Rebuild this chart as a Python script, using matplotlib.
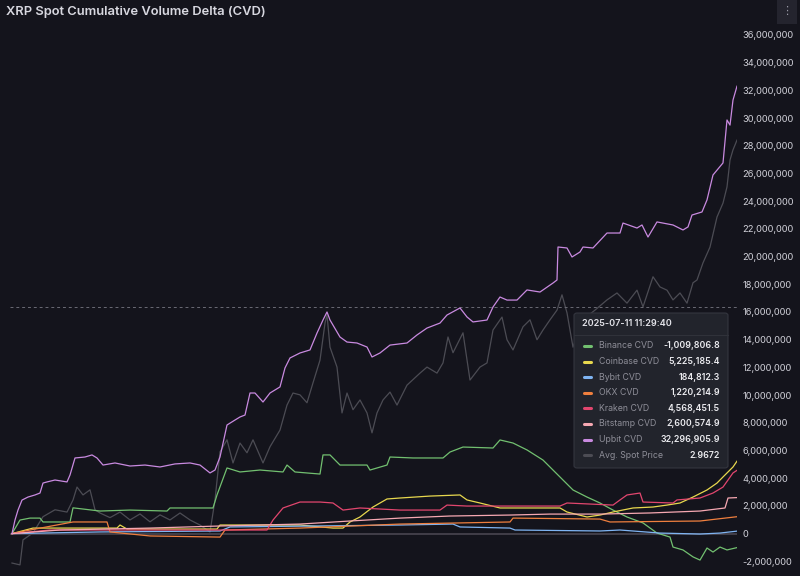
import matplotlib.pyplot as plt
from matplotlib.patches import FancyBboxPatch, Rectangle
from matplotlib.ticker import FuncFormatter

plt.rcParams['font.family'] = ['Inter', 'DejaVu Sans']

BG = '#14141c'

# time axis in hours since start (x axis has no labels)
upbit_t = [0, 3, 6, 10, 16, 23, 28, 31, 35, 43, 55, 58, 63, 73, 80, 85, 91, 103, 118, 133,
           148, 163, 178, 188, 198, 203, 208, 215, 223, 228, 233, 238, 243, 251, 258, 268,
           273, 278, 288, 298, 305, 311, 315, 318, 328, 335, 345, 355, 360, 368, 378, 395,
           405, 415, 428, 435, 448, 455, 461, 475, 481, 488, 495, 505, 515, 528, 541, 545,
           546, 555, 560, 568, 571, 581, 595, 608, 611, 625, 630, 636, 645, 661, 671, 676,
           680, 690, 695, 701, 711, 715, 718, 721, 725]
upbit = [0, 0.98, 1.70, 2.42, 2.64, 2.79, 2.93, 3.65, 3.73, 3.87, 3.73, 4.23, 5.46, 5.53,
         5.68, 5.46, 4.95, 5.10, 4.88, 4.95, 4.81, 5.03, 5.10, 4.95, 4.38, 4.59, 5.53, 7.84,
         8.20, 8.42, 8.56, 10.15, 10.15, 9.50, 10.15, 10.59, 11.96, 12.68, 13.04, 13.26,
         14.48, 15.42, 16.00, 15.42, 14.19, 13.83, 13.76, 13.47, 12.75, 13.04, 13.61, 13.76,
         14.34, 14.84, 15.20, 15.78, 16.29, 15.64, 15.28, 15.42, 16.36, 17.08, 16.86, 16.86,
         17.59, 17.44, 18.09, 18.31, 20.69, 20.62, 19.97, 20.33, 20.69, 20.62, 21.70, 21.70,
         22.42, 22.06, 22.28, 21.41, 22.50, 22.28, 21.92, 22.14, 23.00, 23.22, 24.09, 25.89,
         26.76, 29.86, 29.49, 31.30, 32.30]

binance_t = [0, 8, 18, 28, 31, 58, 61, 88, 118, 155, 158, 201, 205, 215, 228, 248, 271, 275,
             283, 308, 311, 318, 328, 355, 358, 375, 378, 401, 431, 438, 451, 481, 488, 501,
             515, 531, 551, 561, 575, 588, 601, 615, 631, 645, 658, 661, 671, 681, 688, 695,
             701, 708, 715, 725]
binance = [0, 0.98, 1.12, 1.12, 0.84, 0.84, 1.86, 1.63, 1.70, 1.63, 1.85, 1.85, 2.79, 4.74,
           4.45, 4.59, 4.45, 4.95, 4.45, 4.30, 5.68, 5.68, 4.95, 4.95, 4.59, 4.95, 5.53, 5.46,
           5.46, 5.89, 6.25, 6.18, 6.76, 6.54, 6.04, 5.31, 3.87, 3.15, 2.64, 2.21, 1.70, 1.20,
           0.77, 0.04, -0.25, -0.97, -1.18, -1.68, -1.91, -1.04, -1.33, -0.97, -1.18, -1.01]

coinbase_t = [0, 21, 105, 108, 115, 205, 208, 288, 321, 331, 338, 348, 361, 375, 388, 418,
              448, 455, 468, 488, 548, 555, 575, 588, 601, 621, 641, 655, 668, 681, 695, 705,
              711, 721, 725]
coinbase = [0, 0.40, 0.40, 0.62, 0.33, 0.33, 0.62, 0.62, 0.40, 0.40, 0.84, 1.20, 1.92, 2.50,
            2.57, 2.71, 2.79, 2.43, 2.21, 1.85, 1.85, 1.56, 1.20, 1.34, 1.56, 1.85, 1.92,
            2.06, 2.21, 2.64, 3.15, 3.65, 4.09, 4.81, 5.23]

bybit_t = [0, 88, 208, 218, 388, 441, 448, 498, 503, 588, 608, 648, 688, 708, 725]
bybit = [0, 0.12, 0.19, 0.48, 0.62, 0.69, 0.48, 0.40, 0.26, 0.19, 0.26, 0.04, -0.03, 0.04,
         0.18]

okx_t = [0, 18, 61, 95, 98, 138, 208, 213, 288, 388, 498, 501, 588, 598, 688, 713, 725]
okx = [0, 0.26, 0.84, 0.84, 0.12, -0.17, -0.25, 0.26, 0.40, 0.69, 0.84, 1.12, 1.05, 0.84,
       0.91, 1.12, 1.22]

kraken_t = [0, 38, 138, 255, 261, 271, 288, 308, 321, 331, 348, 388, 428, 435, 455, 548,
            555, 601, 608, 615, 628, 631, 661, 665, 688, 701, 711, 721, 725]
kraken = [0, 0.26, 0.26, 0.26, 0.98, 1.85, 2.28, 2.28, 2.21, 1.70, 1.85, 1.70, 1.70, 2.06,
          1.99, 1.99, 2.21, 2.06, 2.43, 2.79, 2.93, 2.28, 2.21, 2.43, 2.57, 2.93, 3.36, 4.38,
          4.57]

bitstamp_t = [0, 48, 138, 208, 288, 338, 388, 438, 498, 538, 588, 638, 688, 713, 716, 725]
bitstamp = [0, 0.26, 0.40, 0.55, 0.69, 0.91, 1.12, 1.27, 1.34, 1.41, 1.41, 1.49, 1.63, 1.85,
            2.57, 2.60]

price_t = [0, 8, 11, 21, 31, 43, 55, 61, 65, 71, 78, 83, 88, 98, 108, 118, 128, 138, 148,
           158, 168, 178, 188, 198, 203, 208, 215, 221, 228, 235, 241, 251, 258, 268, 275,
           281, 288, 295, 301, 308, 313, 315, 318, 325, 330, 335, 341, 348, 355, 360, 365,
           371, 378, 385, 395, 408, 415, 425, 431, 436, 441, 451, 458, 468, 475, 481, 490,
           495, 501, 511, 518, 525, 531, 538, 545, 550, 555, 561, 566, 573, 583, 595, 605,
           615, 625, 631, 641, 648, 655, 661, 668, 675, 681, 685, 691, 698, 705, 711, 715,
           718, 721, 725]
price = [2.054, 2.050, 2.104, 2.119, 2.154, 2.169, 2.164, 2.190, 2.218, 2.201, 2.212, 2.169,
         2.162, 2.152, 2.164, 2.147, 2.160, 2.143, 2.158, 2.147, 2.162, 2.147, 2.136, 2.121,
         2.190, 2.294, 2.320, 2.270, 2.313, 2.292, 2.320, 2.270, 2.305, 2.341, 2.395, 2.421,
         2.417, 2.400, 2.443, 2.492, 2.572, 2.590, 2.520, 2.477, 2.378, 2.421, 2.385, 2.406,
         2.378, 2.335, 2.378, 2.406, 2.423, 2.395, 2.438, 2.464, 2.477, 2.464, 2.486, 2.542,
         2.508, 2.551, 2.449, 2.477, 2.486, 2.557, 2.585, 2.536, 2.514, 2.564, 2.579, 2.536,
         2.557, 2.579, 2.600, 2.633, 2.594, 2.520, 2.551, 2.583, 2.600, 2.622, 2.637, 2.615,
         2.643, 2.607, 2.672, 2.650, 2.643, 2.622, 2.637, 2.615, 2.659, 2.665, 2.702, 2.736,
         2.801, 2.831, 2.866, 2.924, 2.946, 2.967]

tip_date = '2025-07-11 11:29:40'
tip_labels = ['Binance CVD', 'Coinbase CVD', 'Bybit CVD', 'OKX CVD', 'Kraken CVD',
              'Bitstamp CVD', 'Upbit CVD', 'Avg. Spot Price']
tip_values = ['-1,009,806.8', '5,225,185.4', '184,812.3', '1,220,214.9', '4,568,451.5',
              '2,600,574.9', '32,296,905.9', '2.9672']
colors = ['#72c070', '#e8d84e', '#7fb4f2', '#ef7f3e', '#e2466e', '#f6a8b2', '#c98ae0',
          '#4c4c54']

cross_y = 16.35
yticks = list(range(-2, 37, 2))

fig = plt.figure(figsize=(8, 5.76), dpi=100, facecolor=BG)
ax = fig.add_axes([10 / 800, 0, 727 / 800, 548 / 576])
ax.set_facecolor(BG)
ax2 = ax.twinx()

ax2.plot(price_t, price, color=colors[7], lw=0.9)
ax2.set_ylim(2.026, 3.209)
ax2.axis('off')

ax.set_zorder(ax2.get_zorder() + 1)
ax.patch.set_visible(False)
ax2.patch.set_visible(True)
ax2.patch.set_facecolor(BG)

ax.axhline(0, color='#4a4650', lw=1.2, zorder=1)
series = [(binance_t, binance), (coinbase_t, coinbase), (bybit_t, bybit), (okx_t, okx),
          (kraken_t, kraken), (bitstamp_t, bitstamp), (upbit_t, upbit)]
for (t, v), c in zip(series, colors):
    ax.plot(t, v, color=c, lw=0.9, zorder=3)

ax.set_xlim(-2, 725)
ax.set_ylim(-3.06, 36.5)
ax.yaxis.tick_right()
ax.set_yticks(yticks)
ax.yaxis.set_major_formatter(FuncFormatter(lambda v, p: f'{int(round(v * 1e6)):,}'))
ax.tick_params(axis='y', length=0, pad=4, labelsize=6.7, labelcolor='#d0d0d8')
ax.set_xticks([])
for s in ax.spines.values():
    s.set_visible(False)

# crosshair
ax.axhline(cross_y, color='#6a6a74', lw=0.7, ls=(0, (3, 3)), zorder=2)
ax.axvline(725, color='#6a6a74', lw=0.7, ls=(0, (2, 3)), zorder=2)

# title and menu button
fig.text(6 / 800, 1 - 12 / 576, 'XRP Spot Cumulative Volume Delta (CVD)', color='#d8d8e0',
         fontsize=9.3, fontweight='semibold', va='center', ha='left')
fig.patches.append(Rectangle((777 / 800, 1 - 24 / 576), 20 / 800, 24 / 576,
                             transform=fig.transFigure, facecolor='#24242e', edgecolor='none'))
fig.text(787 / 800, 1 - 11 / 576, '⋮', color='#9a9aa6', fontsize=8, ha='center', va='center',
         family=['DejaVu Sans'])

# tooltip
W, H = 800, 576
bx0, by0, bx1, by1 = 574, 313, 728, 468
fig.patches.append(FancyBboxPatch((bx0 / W, 1 - by1 / H), (bx1 - bx0) / W, (by1 - by0) / H,
                                  boxstyle='round,pad=0,rounding_size=0.004',
                                  transform=fig.transFigure, facecolor='#22242c',
                                  edgecolor='#34363f', lw=0.8, zorder=10))
fig.text(582 / W, 1 - 324 / H, tip_date, color='#e4e4ea', fontsize=6.5, fontweight='semibold',
         va='center', ha='left', zorder=11)
fig.lines.append(plt.Line2D([bx0 / W, bx1 / W], [1 - 335 / H, 1 - 335 / H],
                            transform=fig.transFigure, color='#30323a', lw=0.8, zorder=11))
for i, (lab, val, c) in enumerate(zip(tip_labels, tip_values, colors)):
    yy = 1 - (346 + i * 15.6) / H
    fig.lines.append(plt.Line2D([584 / W, 591 / W], [yy, yy], transform=fig.transFigure,
                                color=c, lw=2.2, solid_capstyle='round', zorder=11))
    fig.text(599 / W, yy, lab, color='#8e8e98', fontsize=6.3, va='center', ha='left', zorder=11)
    fig.text(720 / W, yy, val, color='#ececf0', fontsize=6.3, fontweight='semibold',
             va='center', ha='right', zorder=11)

fig.savefig('out.png', dpi=100, facecolor=BG)
